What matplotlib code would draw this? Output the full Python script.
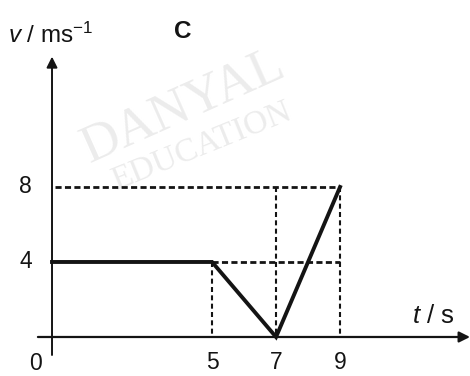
import matplotlib
matplotlib.use("Agg")
import matplotlib.pyplot as plt

plt.rcParams['font.family'] = ['Liberation Sans', 'DejaVu Sans']
plt.rcParams['mathtext.fontset'] = 'custom'
plt.rcParams['mathtext.rm'] = 'Liberation Sans'
plt.rcParams['mathtext.it'] = 'Liberation Sans:italic'

# velocity-time graph
t_vals = [0, 5, 7, 9]
v_vals = [4, 4, 0, 8]
x_ticks = [5, 7, 9]
y_ticks = [4, 8]

fig = plt.figure(figsize=(4.7, 3.76), dpi=100)
ax = fig.add_axes([0, 0, 1, 1])
ax.set_xlim(-1.625, 13.06)
ax.set_ylim(-2.08, 17.97)
ax.axis('off')

ink = '#141414'
hdash = dict(color=ink, lw=2.0, ls=(0, (2.2, 1.2)))
vdash = dict(color=ink, lw=1.5, ls=(0, (2.4, 1.6)))

# guide lines
ax.plot([0.1, 9], [8, 8], **hdash)
ax.plot([5, 9], [4, 4], **hdash)
ax.plot([5, 5], [4, 0], **vdash)
ax.plot([7, 7], [8, 0], **vdash)
ax.plot([9, 9], [8, 0], **vdash)

# axes with arrows
ax.annotate('', xy=(13.06, 0), xytext=(-0.44, 0),
            arrowprops=dict(arrowstyle='-|>', color=ink, lw=1.6,
                            mutation_scale=16, shrinkA=0, shrinkB=0))
ax.annotate('', xy=(0, 14.95), xytext=(0, -0.96),
            arrowprops=dict(arrowstyle='-|>', color=ink, lw=1.4,
                            mutation_scale=16, shrinkA=0, shrinkB=0))

# motion graph
ax.plot(t_vals, v_vals, color=ink, lw=2.8, solid_joinstyle='miter')

# tick labels
for xt in x_ticks:
    ax.text(xt, -0.75, str(xt), ha='center', va='top', fontsize=16.5,
            color=ink)
for yt in y_ticks:
    ax.text(-0.62, yt, str(yt), ha='right', va='center', fontsize=16.5,
            color=ink)
ax.text(-0.53, -0.82, '0', ha='center', va='top', fontsize=16.5, color=ink)

# axis titles
ax.text(-1.39, 16.1, r'$\mathit{v}$ / ms$^{-1}$', ha='left', va='center',
        fontsize=17.5, color=ink)
ax.text(4.09, 16.3, 'C', ha='center', va='center', fontsize=17.5,
        color=ink, fontweight='bold')
ax.text(11.25, 0.75, r'$\mathit{t}$ / s', ha='left', va='baseline',
        fontsize=18.5, color=ink)

# watermark
ax.text(4.09, 12.27, 'DANYAL', fontsize=38, family='Liberation Serif',
        color='#ececec', rotation=24, ha='center', va='center', zorder=0)
ax.text(4.66, 10.13, 'EDUCATION', fontsize=24, family='Liberation Serif',
        color='#ececec', rotation=22, ha='center', va='center', zorder=0)

fig.savefig('out.png', dpi=100)
